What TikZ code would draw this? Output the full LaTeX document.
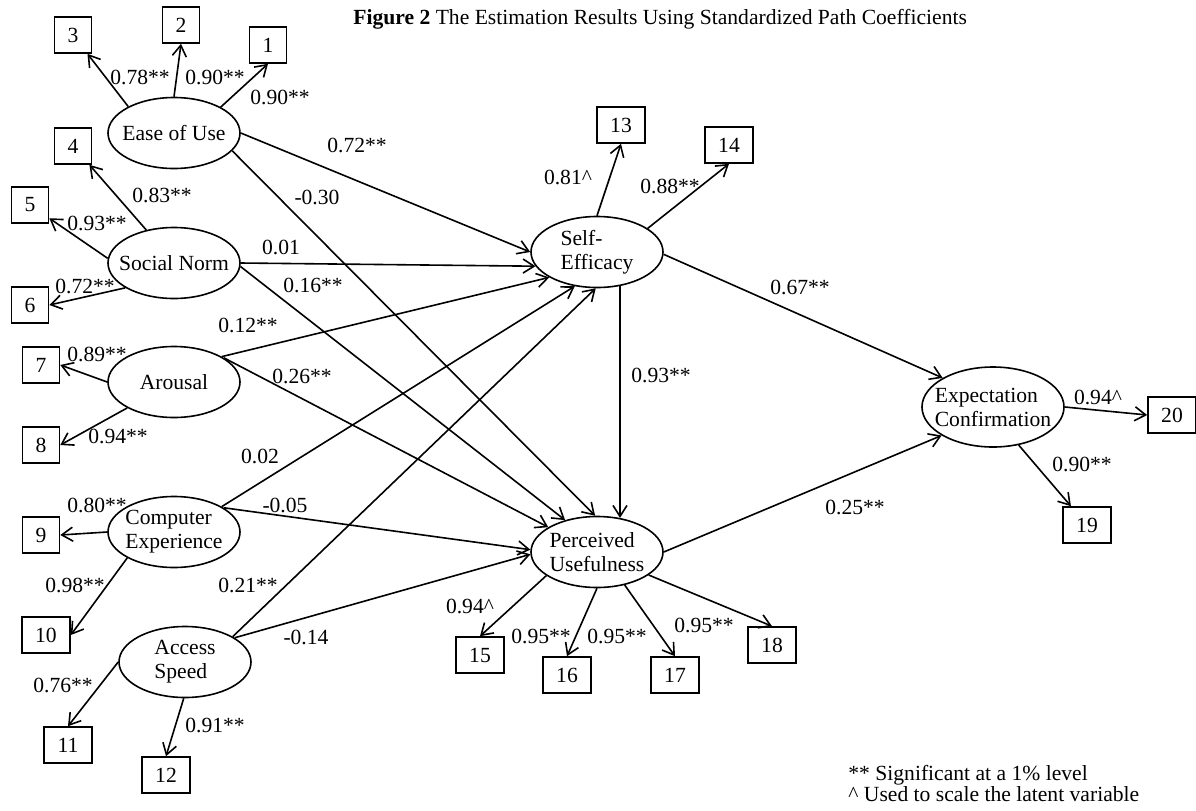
\documentclass[tikz,border=0pt]{standalone}
\usepackage{fontspec}
\setmainfont{Liberation Serif}
\usetikzlibrary{arrows.meta,shapes.geometric}
\begin{document}
\begin{tikzpicture}[x=0.5pt,y=-0.5pt,
  every node/.style={font=\fontsize{10.8}{12}\selectfont},
  lat/.style={draw, ellipse, line width=0.8pt, minimum width=66pt, minimum height=35.5pt, inner sep=0pt},
  latbig/.style={lat, minimum width=71pt, minimum height=40pt},
  obs/.style={draw, rectangle, line width=0.8pt, minimum width=18.5pt, minimum height=18pt, inner sep=0pt},
  obstwo/.style={obs, minimum width=24pt},
  arr/.style={-{Straight Barb[length=5.5pt,width=7pt,line width=0.8pt]}, line width=0.8pt},
  lab/.style={inner sep=0pt},
]
\useasboundingbox (0,0) rectangle (1196,810);

% title
\node[anchor=base west, inner sep=0pt] (title) at (353,24) {\textbf{Figure 2} The Estimation Results Using Standardized Path Coefficients};

% observed indicators
\node[obs] (b3) at (73,35) {3};
\node[obs] (b2) at (181,25) {2};
\node[obs] (b1) at (268,45) {1};
\node[obs] (b4) at (73,146) {4};
\node[obs] (b5) at (30,205) {5};
\node[obs] (b6) at (30,305) {6};
\node[obs] (b7) at (41,365) {7};
\node[obs] (b8) at (41,445) {8};
\node[obs] (b9) at (41,535) {9};
\node[obstwo] (b10) at (46,635) {10};
\node[obstwo] (b11) at (68,745) {11};
\node[obstwo] (b12) at (166,775) {12};
\node[obstwo] (b13) at (621,125) {13};
\node[obstwo] (b14) at (729,145) {14};
\node[obstwo] (b15) at (480,655) {15};
\node[obstwo] (b16) at (567,675) {16};
\node[obstwo] (b17) at (675,675) {17};
\node[obstwo] (b18) at (772,645) {18};
\node[obstwo] (b19) at (1087,525) {19};
\node[obstwo] (b20) at (1172,415) {20};

% latent variables
\node[lat, label={[align=left]center:{Ease of Use}}] (eou) at (174,133) {};
\node[lat, label={[align=left]center:{Social Norm}}] (sn) at (174,263) {};
\node[lat, label={[align=left]center:{Arousal}}] (ar) at (174,382) {};
\node[lat, label={[align=left]center:{Computer\\Experience}}] (ce) at (174,532) {};
\node[lat, label={[align=left]center:{Access\\Speed}}] (as) at (185,662) {};
\node[lat, label={[align=left]center:{Self-\\Efficacy}}] (se) at (597,252) {};
\node[lat, label={[align=left]center:{Perceived\\Usefulness}}] (pu) at (597,552) {};
\node[latbig, label={[align=left]center:{Expectation\\Confirmation}}] (ec) at (993,407) {};

% measurement arrows
\draw[arr] (eou.150) -- (b3);
\draw[arr] (eou.90) -- (b2.south);
\draw[arr] (eou.29) -- (b1.south);
\draw[arr] (sn.130) -- (b4);
\draw[arr] (sn.176) -- (b5);
\draw[arr] (sn.207) -- (b6.east);
\draw[arr] (ar.180) -- (b7.east);
\draw[arr] (ar.209) -- (b8.east);
\draw[arr] (ce.180) -- (b9.east);
\draw[arr] (ce.209) -- (b10.east);
\draw[arr] (as.180) -- (b11.north);
\draw[arr] (as.268) -- (b12.north);
\draw[arr] (se.90) -- (b13.south);
\draw[arr] (se.25) -- (b14.south);
\draw[arr] (pu.205) -- (b15.north);
\draw[arr] (pu.270) -- (b16.north);
\draw[arr] (pu.-50) -- (b17.north);
\draw[arr] (pu.-24) -- (b18.north);
\draw[arr] (ec.0) -- (b20.west);
\draw[arr] (ec.-56) -- (b19);

% structural paths
\draw[arr] (eou.0) -- (se.180);
\draw[arr] (eou.-17) -- (pu.93);
\draw[arr] (sn.0) -- (se.193);
\draw[arr] (sn.-3) -- (pu.135);
\draw[arr] (ar.28) -- (se.208);
\draw[arr] (ar.26) -- (pu.153);
\draw[arr] (ce.28) -- (se.237);
\draw[arr] (ce.26) -- (pu.178);
\draw[arr] (as.28) -- (se.268);
\draw[arr] (as.26) -- (pu.182);
\draw[arr] (se.-56.7) -- (pu.56.7);
\draw[arr] (se.-2) -- (ec.150);
\draw[arr] (pu.0) -- (ec.209);

% loading labels
\node[lab] (l1) at (140,77) {0.78**};
\node[lab] (l2) at (215,77) {0.90**};
\node[lab] (l3) at (280,97) {0.90**};
\node[lab] (l4) at (162,195) {0.83**};
\node[lab] (l5) at (97,223) {0.93**};
\node[lab] (l6) at (85,286) {0.72**};
\node[lab] (l7) at (97,354) {0.89**};
\node[lab] (l8) at (118,436) {0.94**};
\node[lab] (l9) at (97,505) {0.80**};
\node[lab] (l10) at (75,585) {0.98**};
\node[lab] (l11) at (63,685) {0.76**};
\node[lab] (l12) at (215,725) {0.91**};
\node[lab] (l13) at (568,177) {0.81\textasciicircum};
\node[lab] (l14) at (670,186) {0.88**};
\node[lab] (l15) at (470,606) {0.94\textasciicircum};
\node[lab] (l16) at (541,636) {0.95**};
\node[lab] (l17) at (617,636) {0.95**};
\node[lab] (l18) at (704,625) {0.95**};
\node[lab] (l20) at (1098,397) {0.94\textasciicircum};
\node[lab] (l19) at (1082,464) {0.90**};

% path labels
\node[lab] (p1) at (357,145) {0.72**};
\node[lab] (p2) at (317,197) {-0.30};
\node[lab] (p3) at (281,247) {0.01};
\node[lab] (p4) at (313,285) {0.16**};
\node[lab] (p5) at (248,325) {0.12**};
\node[lab] (p6) at (302,376) {0.26**};
\node[lab] (p7) at (260,456) {0.02};
\node[lab] (p8) at (285,505) {-0.05};
\node[lab] (p9) at (248,585) {0.21**};
\node[lab] (p10) at (306,637) {-0.14};
\node[lab] (p11) at (661,375) {0.93**};
\node[lab] (p12) at (800,287) {0.67**};
\node[lab] (p13) at (855,507) {0.25**};

% legend
\node[anchor=base west, inner sep=0pt] (leg1) at (848,780) {** Significant at a 1\% level};
\node[anchor=base west, inner sep=0pt] (leg2) at (848,801) {\textasciicircum\ Used to scale the latent variable};
\end{tikzpicture}
\end{document}
